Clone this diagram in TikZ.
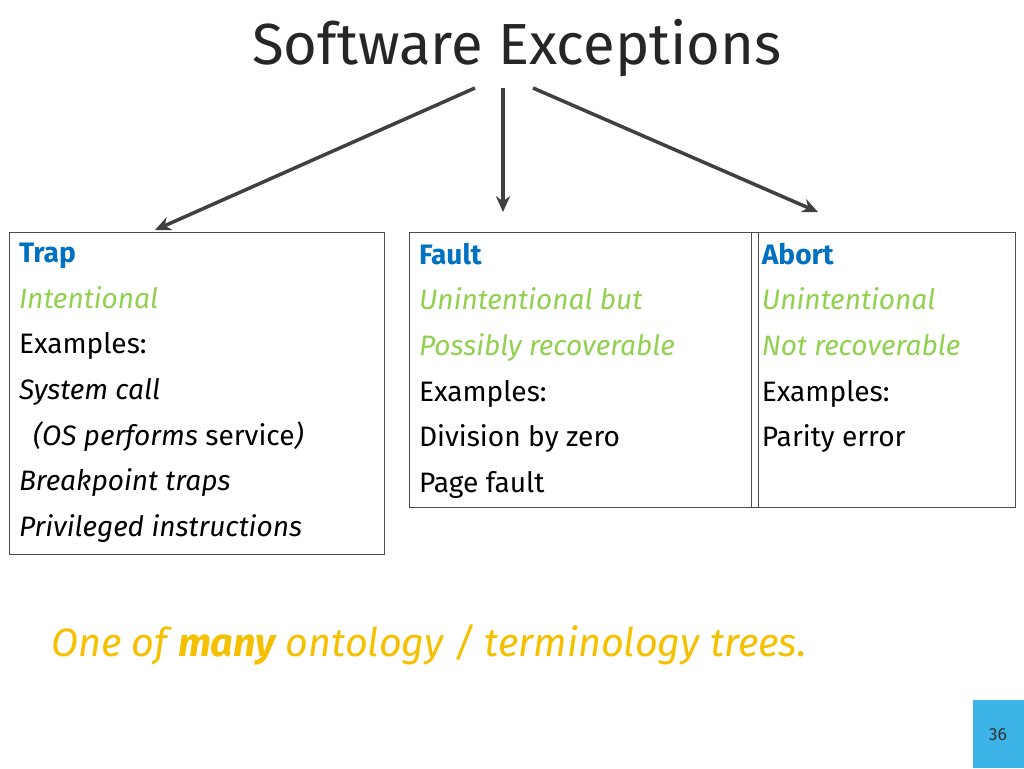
\documentclass[tikz,border=0pt]{standalone}
\usepackage{fontspec}
\setmainfont{Fira Sans}
\usetikzlibrary{arrows.meta,positioning}
\definecolor{hdblue}{HTML}{0070C0}
\definecolor{igreen}{HTML}{92D050}
\definecolor{noteyel}{HTML}{F5C000}
\definecolor{pgblue}{HTML}{3CB4E8}
\tikzstyle{arrow} = [
    line width=2pt,
    -{Stealth[length=9pt,width=8pt]},
    draw=black!75
]
\tikzstyle{kindbox} = [draw=black!70, anchor=north west, inner sep=0pt]
\tikzstyle{kindtext} = [
    anchor=north west, align=left, inner xsep=5.5pt, inner ysep=6pt,
    font=\fontsize{16pt}{26pt}\selectfont
]
\begin{document}
\begin{tikzpicture}[x=0.02cm,y=-0.02cm]
\useasboundingbox (0,0) rectangle (1024,768);

% Title
\node[font=\fontsize{33pt}{40pt}\selectfont, text=black!85] (title) at (517,48) {Software Exceptions};

% Kinds
\node[kindbox, minimum width=375*0.02cm, minimum height=322*0.02cm] (trapbox) at (9,232) {};
\node[kindtext] (trap) at (trapbox.north west)
 {\textcolor{hdblue}{\textbf{Trap}}\\
  \textcolor{igreen}{\itshape Intentional}\\
  Examples:\\
  \textit{System call}\\
  \hspace*{0.5em}\textit{(OS performs} service\textit{)}\\
  \textit{Breakpoint traps}\\
  \textit{Privileged instructions}};
\node[kindbox, minimum width=349*0.02cm, minimum height=275*0.02cm] (faultbox) at (409,232) {};
\node[kindtext] (fault) at (faultbox.north west)
 {\textcolor{hdblue}{\textbf{Fault}}\\
  \textcolor{igreen}{\itshape Unintentional but}\\
  \textcolor{igreen}{\itshape Possibly recoverable}\\
  Examples:\\
  Division by zero\\
  Page fault};
\node[kindbox, minimum width=264*0.02cm, minimum height=275*0.02cm] (abortbox) at (751,232) {};
\node[kindtext, inner xsep=6pt] (abort) at (abortbox.north west)
 {\textcolor{hdblue}{\textbf{Abort}}\\
  \textcolor{igreen}{\itshape Unintentional}\\
  \textcolor{igreen}{\itshape Not recoverable}\\
  Examples:\\
  Parity error};

% Connectors
\coordinate (tl) at (475,88);
\coordinate (tm) at (503,88);
\coordinate (tr) at (533,88);
\coordinate (al) at (155,230);
\coordinate (am) at (503,212);
\coordinate (ar) at (818,212);
\draw[arrow] (tl) -- (al);
\draw[arrow] (tm) -- (am);
\draw[arrow] (tr) -- (ar);

% Note
\node[anchor=west, text=noteyel, font=\fontsize{22.5pt}{28pt}\selectfont\itshape] (note) at (45,645)
 {One of \textbf{many} ontology / terminology trees.};

% Page number
\fill[pgblue] (973,700) rectangle (1024,768);
\node[font=\fontsize{10pt}{12pt}\selectfont, text=black!80] (page) at (998,735) {36};
\end{tikzpicture}
\end{document}
